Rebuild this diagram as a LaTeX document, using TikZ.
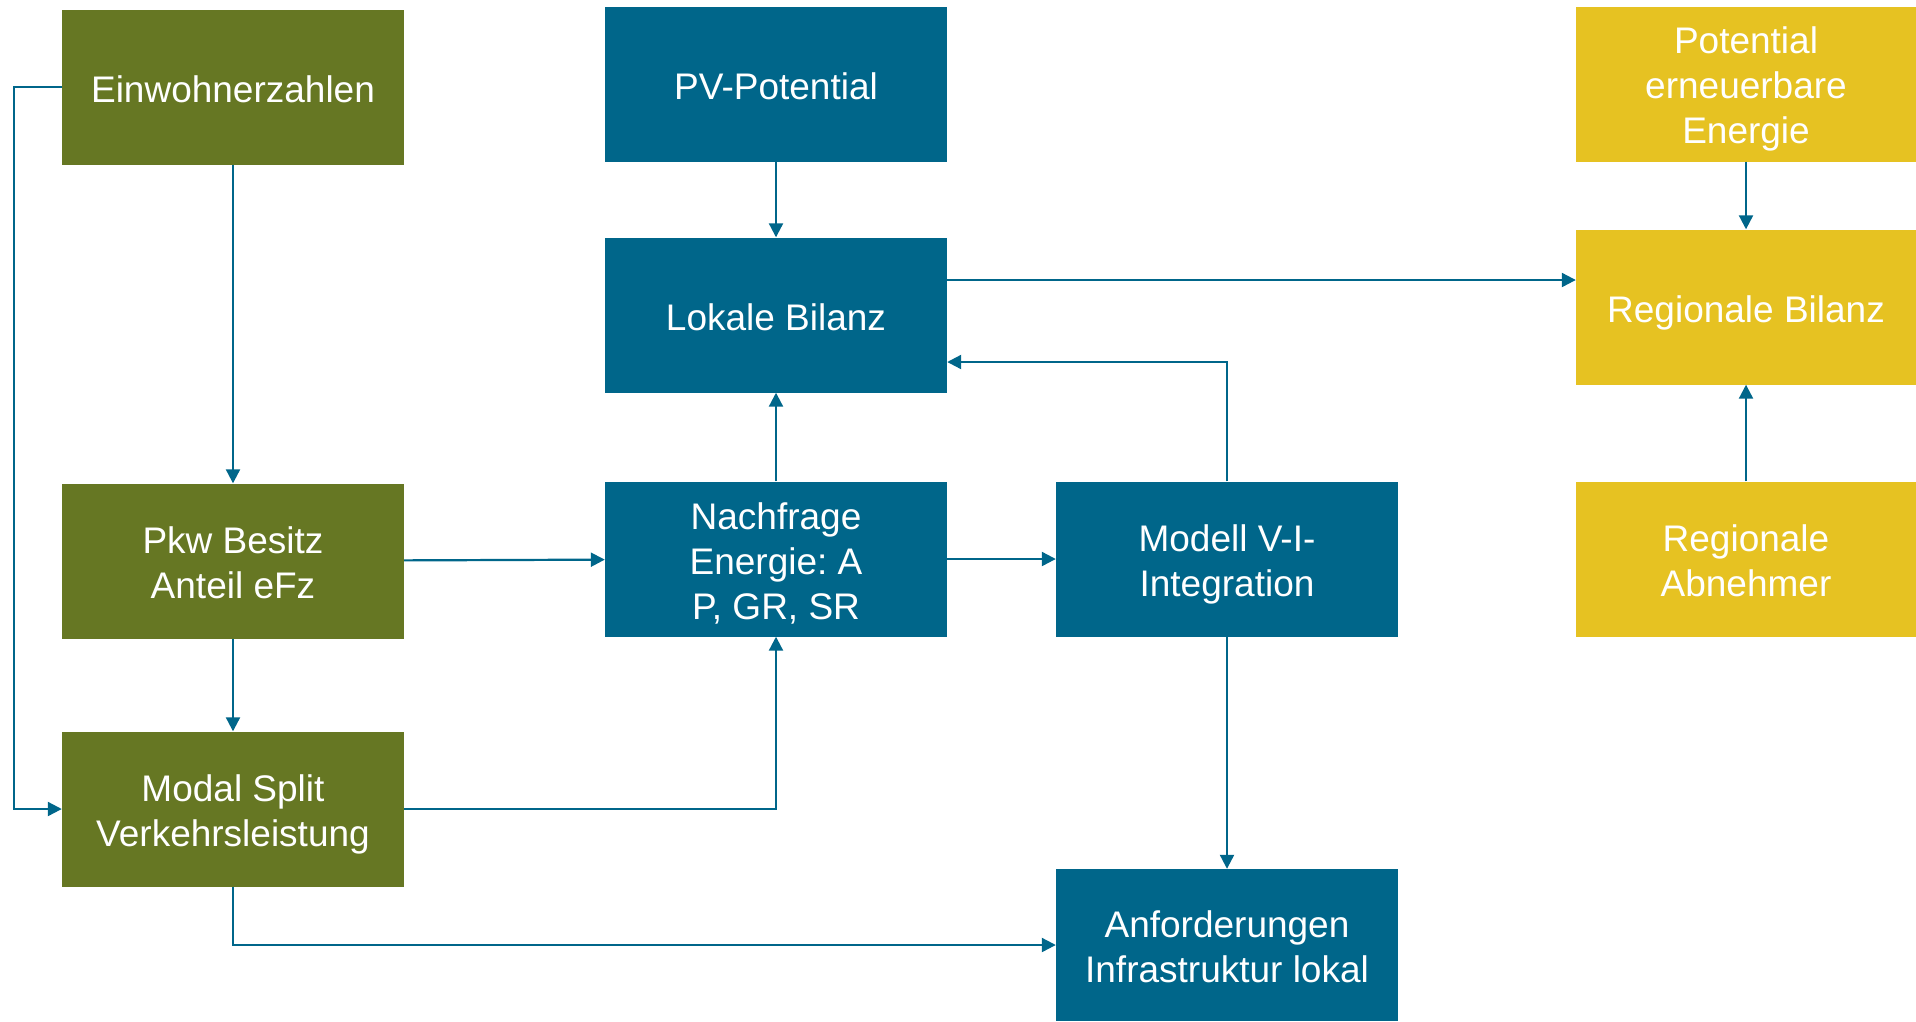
\documentclass[tikz,border=0pt]{standalone}
\usepackage{fontspec}
\setmainfont{Liberation Sans}
\frenchspacing
\usetikzlibrary{arrows.meta}
\definecolor{boxgreen}{RGB}{102,119,35}
\definecolor{boxblue}{RGB}{0,102,138}
\definecolor{boxyellow}{RGB}{230,194,34}
% fixed line boxes so that every label is centred on its line height, not on its glyphs
\newcommand{\topstrut}{\rule[-7pt]{0pt}{45pt}}
\newcommand{\tallstrut}{\rule[-7pt]{0pt}{44pt}}
\newcommand{\botstrut}{\rule[-7pt]{0pt}{7pt}}
\tikzset{
  x=1pt, y=-1pt,
  box/.style={rectangle, inner sep=0pt, minimum width=342pt, minimum height=155pt,
    text=white, align=center, font=\fontsize{37}{45}\selectfont},
  greenbox/.style={box, fill=boxgreen},
  bluebox/.style={box, fill=boxblue},
  yellowbox/.style={box, fill=boxyellow, minimum width=340pt},
  conn/.style={draw=boxblue, line width=2.2pt,
    -{Triangle[width=14pt,length=14pt]}}
}
\begin{document}
\begin{tikzpicture}
\useasboundingbox (0,0) rectangle (1916,1021);

% mobility inputs (left column)
\node[greenbox] (ein)   at (233,87)  {\topstrut Einwohnerzahlen\botstrut};
\node[greenbox] (pkw)   at (233,561) {\tallstrut Pkw Besitz\\Anteil eFz\botstrut};
\node[greenbox] (modal) at (233,809) {\tallstrut Modal Split\\Verkehrsleistung\botstrut};

% local energy chain
\node[bluebox] (pv)     at (776,84)  {\topstrut PV-Potential\botstrut};
\node[bluebox] (lok)    at (776,315) {\topstrut Lokale Bilanz\botstrut};
\node[bluebox] (nach)   at (776,559) {\tallstrut Nachfrage\\Energie: A\\P, GR, SR\botstrut};
\node[bluebox] (modell) at (1227,559) {\tallstrut Modell V-I-\\Integration\botstrut};
\node[bluebox, minimum height=152pt] (anf) at (1227,945) {\tallstrut Anforderungen\\Infrastruktur lokal\botstrut};

% regional level
\node[yellowbox] (pot) at (1746,84)  {\tallstrut Potential\\erneuerbare\\Energie\botstrut};
\node[yellowbox] (reg) at (1746,307) {\topstrut Regionale Bilanz\botstrut};
\node[yellowbox] (abn) at (1746,559) {\tallstrut Regionale\\Abnehmer\botstrut};

% connection points on the sides of the local balance
\coordinate (lokout) at ([yshift=35pt]lok.east);
\coordinate (lokin)  at ([yshift=-47pt]lok.east);

% connectors
\draw[conn] (ein.west) -- ++(-48,0) |- (modal.west);
\draw[conn] (ein) -- (pkw);
\draw[conn] (pkw) -- (modal);
\draw[conn] (pkw) -- (nach);
\draw[conn] (modal.east) -| (nach.south);
\draw[conn] (modal.south) |- (anf.west);
\draw[conn] (pv) -- (lok);
\draw[conn] (nach) -- (lok);
\draw[conn] (nach) -- (modell);
\draw[conn] (modell.north) |- (lokin);
\draw[conn] (modell) -- (anf);
\draw[conn] (lokout) -- (lokout -| reg.west);
\draw[conn] (pot) -- (reg);
\draw[conn] (abn) -- (reg);
\end{tikzpicture}
\end{document}
